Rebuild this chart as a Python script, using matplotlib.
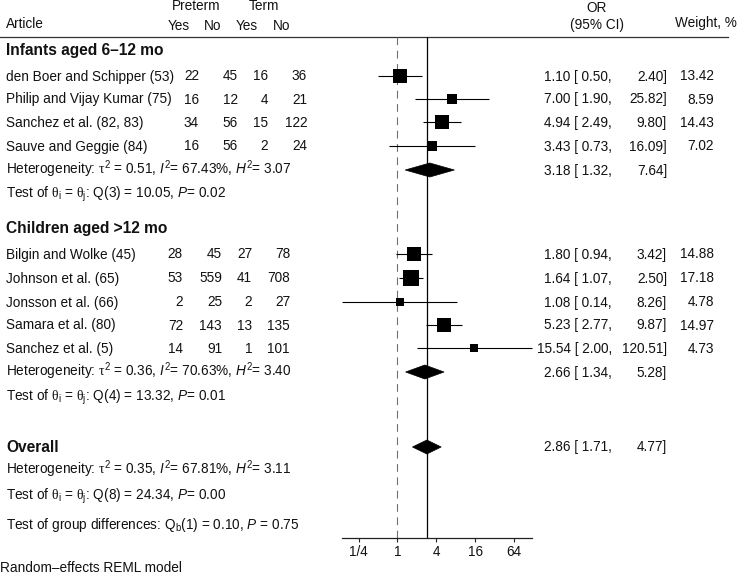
import matplotlib
matplotlib.use('Agg')
import matplotlib.pyplot as plt
from matplotlib.patches import Polygon
import numpy as np

plt.rcParams['font.family'] = ['Liberation Sans', 'DejaVu Sans']
plt.rcParams['mathtext.fontset'] = 'custom'
plt.rcParams['mathtext.rm'] = 'Liberation Sans'
plt.rcParams['mathtext.it'] = 'Liberation Sans:italic'
plt.rcParams['mathtext.bf'] = 'Liberation Sans:bold'
plt.rcParams['mathtext.sf'] = 'Liberation Serif'

# ---------------- data ----------------
groups = ["Infants aged 6–12 mo", "Children aged >12 mo"]

g1_names = ["den Boer and Schipper (53)", "Philip and Vijay Kumar (75)",
            "Sanchez et al. (82, 83)", "Sauve and Geggie (84)"]
g1_pre_yes = [22, 16, 34, 16]
g1_pre_no = [45, 12, 56, 56]
g1_term_yes = [16, 4, 15, 2]
g1_term_no = [36, 21, 122, 24]
g1_or = [1.10, 7.00, 4.94, 3.43]
g1_lo = [0.50, 1.90, 2.49, 0.73]
g1_hi = [2.40, 25.82, 9.80, 16.09]
g1_w = [13.42, 8.59, 14.43, 7.02]
g1_sum = [3.18, 1.32, 7.64]
g1_het = [0.51, 67.43, 3.07]
g1_test = [3, 10.05, 0.02]

g2_names = ["Bilgin and Wolke (45)", "Johnson et al. (65)", "Jonsson et al. (66)",
            "Samara et al. (80)", "Sanchez et al. (5)"]
g2_pre_yes = [28, 53, 2, 72, 14]
g2_pre_no = [45, 559, 25, 143, 91]
g2_term_yes = [27, 41, 2, 13, 1]
g2_term_no = [78, 708, 27, 135, 101]
g2_or = [1.80, 1.64, 1.08, 5.23, 15.54]
g2_lo = [0.94, 1.07, 0.14, 2.77, 2.00]
g2_hi = [3.42, 2.50, 8.26, 9.87, 120.51]
g2_w = [14.88, 17.18, 4.78, 14.97, 4.73]
g2_sum = [2.66, 1.34, 5.28]
g2_het = [0.36, 70.63, 3.40]
g2_test = [4, 13.32, 0.01]

overall = [2.86, 1.71, 4.77]
overall_het = [0.35, 67.81, 3.11]
overall_test = [8, 24.34, 0.00]
group_diff = [1, 0.10, 0.75]

xticks = [0.25, 1, 4, 16, 64]
xticklabels = ["1/4", "1", "4", "16", "64"]

# ---------------- layout (pixels) ----------------
W, H = 740, 580
fig = plt.figure(figsize=(W / 100, H / 100), dpi=100)
fig.patch.set_facecolor('white')
at = fig.add_axes([0, 0, 1, 1])
at.set_xlim(0, W)
at.set_ylim(H, 0)
at.axis('off')

top_y, axis_y = 37, 538
ax_l, ax_r = 342.3, 531.7
ax = fig.add_axes([ax_l / W, (H - axis_y) / H, (ax_r - ax_l) / W, (axis_y - top_y) / H])
ax.set_xscale('log', base=2)
all_lo = g1_lo + g2_lo
all_hi = g1_hi + g2_hi
ax.set_xlim(min(all_lo), max(all_hi))
ax.set_ylim(axis_y, top_y)
ax.patch.set_alpha(0)
for s in ['top', 'left', 'right']:
    ax.spines[s].set_visible(False)
ax.spines['bottom'].set_linewidth(0.9)
ax.spines['bottom'].set_color('#222222')
ax.set_yticks([])
ax.set_xticks(xticks)
ax.set_xticklabels(xticklabels)
ax.xaxis.set_minor_locator(matplotlib.ticker.NullLocator())
ax.tick_params(axis='x', direction='out', length=3, width=0.8, pad=2,
               labelsize=9.8, color='#222222', labelcolor='#111111')

FS = 9.8
TXT = '#111111'
BASE = 4.5  # baseline offset from row centre

def t(x, y, s, ha='left', size=FS, weight='normal'):
    at.text(x, y + BASE, s, ha=ha, va='baseline', fontsize=size,
            fontweight=weight, color=TXT)

# header
at.plot([0, 728], [top_y, top_y], color='#333333', lw=0.9)
t(6, 24, "Article")
t(196, 6, "Preterm", ha='center')
t(264, 6, "Term", ha='center')
for x, s in zip([179, 213, 247, 282], ["Yes", "No", "Yes", "No"]):
    t(x, 25, s, ha='center')
t(597, 7, "OR", ha='center')
t(597, 25, "(95% CI)", ha='center')
t(737, 22, "Weight, %", ha='right')

def diamond(y, est, lo, hi, h=7):
    ax.add_patch(Polygon([(lo, y), (est, y - h), (hi, y), (est, y + h)],
                         closed=True, facecolor='black', edgecolor='black',
                         lw=0.5, zorder=4, clip_on=False))

def het_text(v):
    return (r"Heterogeneity: $\mathsf{\tau}^2$ = %.2f, $I^2$= %.2f%%, $H^2$= %.2f"
            % (v[0], v[1], v[2]))

def test_text(v):
    return (r"Test of $\mathsf{\theta}_\mathrm{i}$ = $\mathsf{\theta}_\mathrm{j}$: "
            r"Q(%d) = %.2f, $P$= %.2f" % (v[0], v[1], v[2]))

def or_cols(y, est, lo, hi, w=None):
    t(612, y, "%.2f [ %.2f," % (est, lo), ha='right')
    t(667, y, "%.2f]" % hi, ha='right')
    if w is not None:
        t(714, y, "%.2f" % w, ha='right')

def study_rows(ys, names, a, b, c, d, ors, los, his, ws, colx):
    for i, y in enumerate(ys):
        t(6, y, names[i])
        for x, v in zip(colx, [a[i], b[i], c[i], d[i]]):
            t(x, y, str(v), ha='right')
        or_cols(y, ors[i], los[i], his[i], ws[i])
        ax.hlines(y, los[i], his[i], color='black', lw=0.8, zorder=3, clip_on=False)
        side_pt = 3.7 * np.sqrt(ws[i]) * 0.72
        ax.scatter([ors[i]], [y], marker='s', s=side_pt ** 2, color='black',
                   linewidths=0, zorder=5, clip_on=False)

# group 1
t(6, 51, groups[0], size=11.2, weight='bold')
ys1 = [76, 99, 122.5, 146]
study_rows(ys1, g1_names, g1_pre_yes, g1_pre_no, g1_term_yes, g1_term_no,
           g1_or, g1_lo, g1_hi, g1_w, [199, 238, 268, 307])
t(6, 170, het_text(g1_het))
or_cols(170, *g1_sum)
diamond(170, *g1_sum)
t(6, 193.5, test_text(g1_test))

# group 2
t(6, 229, groups[1], size=11.2, weight='bold')
ys2 = [254, 278, 302, 325, 348.5]
study_rows(ys2, g2_names, g2_pre_yes, g2_pre_no, g2_term_yes, g2_term_no,
           g2_or, g2_lo, g2_hi, g2_w, [183, 222, 252, 290])
t(6, 372, het_text(g2_het))
or_cols(372, *g2_sum)
diamond(372, *g2_sum)
t(6, 396, test_text(g2_test))

# overall
t(6, 447, "Overall", size=11.2, weight='bold')
or_cols(447, *overall)
diamond(447, *overall)
t(6, 470, het_text(overall_het))
t(6, 495, test_text(overall_test))
t(6, 525, r"Test of group differences: Q$_\mathrm{b}$(%d) = %.2f, $P$ = %.2f"
   % (group_diff[0], group_diff[1], group_diff[2]))

t(0, 567, "Random–effects REML model")

# reference lines
ax.axvline(1, color='#707070', ls=(0, (7, 5)), lw=0.8, zorder=1)
ax.axvline(overall[0], color='black', lw=0.9, zorder=2)

fig.savefig('out.png', dpi=100, facecolor='white')
